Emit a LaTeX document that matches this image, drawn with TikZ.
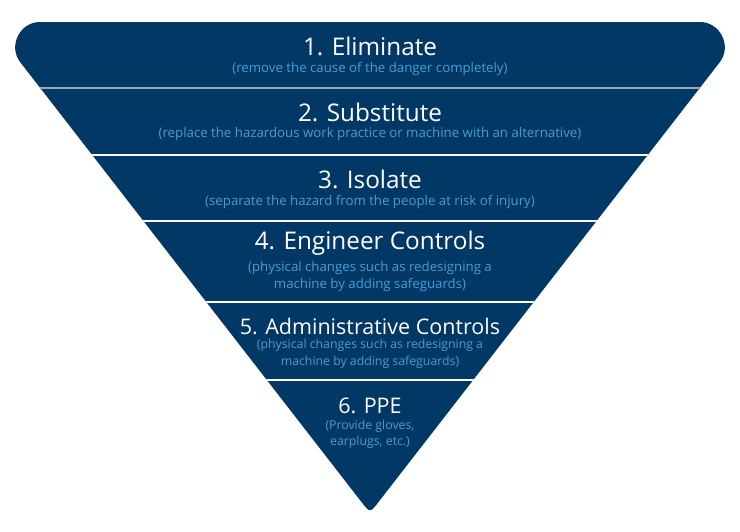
\documentclass[tikz,border=0pt]{standalone}
\usepackage{fontspec}
\setmainfont{Open Sans}
\definecolor{navy}{HTML}{023865}
\definecolor{subblue}{HTML}{4B9AD6}
\definecolor{sepgray}{HTML}{9AA8B8}
\tikzset{
  title/.style={text=white, font=\fontsize{24.3}{27}\selectfont, inner sep=0pt, anchor=center},
  titlesmall/.style={text=white, font=\fontsize{21.5}{24}\selectfont, inner sep=0pt, anchor=center},
  subtitle/.style={text=subblue, font=\fontsize{13.25}{17}\selectfont, inner sep=0pt, anchor=center, align=center},
  subtitlesmall/.style={text=subblue, font=\fontsize{12.3}{16.5}\selectfont, inner sep=0pt, anchor=center, align=center},
  sep/.style={draw=white, line width=1.3pt},
}
\begin{document}
\begin{tikzpicture}[x=1pt,y=-1pt]
\useasboundingbox (0,0) rectangle (740,531);
% left top corner
\coordinate (A) at (40,22);
\coordinate (CA) at (19.6,22);
\coordinate (CB) at (7.8,46.2);
\coordinate (B) at (20.3,62.3);
% right top corner
\coordinate (A2) at (700,22);
\coordinate (CA2) at (720.4,22);
\coordinate (CB2) at (732.2,46.2);
\coordinate (B2) at (719.7,62.3);
% apex
\coordinate (AP) at (370,513);
\coordinate (P1) at (378.6,501.9);
\coordinate (P2) at (361.4,501.9);
\def\shapepath{(A) -- (A2) .. controls (CA2) and (CB2) .. (B2) -- (P1) .. controls (AP) .. (P2) -- (B) .. controls (CB) and (CA) .. (A) -- cycle}
\fill[navy] \shapepath;
\begin{scope}
  \clip \shapepath;
  \draw[sepgray, line width=1.6pt] (0,88) -- (740,88);
  \draw[sep] (0,155) -- (740,155);
  \draw[sep] (0,221) -- (740,221);
  \draw[sep] (0,302) -- (740,302);
  \draw[sep] (0,380) -- (740,380);
\end{scope}
\node[title] (t1) at (370,46) {1. Eliminate};
\node[subtitle] (s1) at (370,69) {(remove the cause of the danger completely)};
\node[title] (t2) at (370,112) {2. Substitute};
\node[subtitle] (s2) at (370,134) {(replace the hazardous work practice or machine with an alternative)};
\node[title] (t3) at (370,179) {3. Isolate};
\node[subtitle] (s3) at (370,202) {(separate the hazard from the people at risk of injury)};
\node[title] (t4) at (370,243) {4. Engineer Controls};
\node[subtitle] (s4) at (370,276.5) {(physical changes such as redesigning a\\machine by adding safeguards)};
\node[titlesmall] (t5) at (370,326) {5. Administrative Controls};
\node[subtitlesmall] (s5) at (370,354) {(physical changes such as redesigning a\\machine by adding safeguards)};
\node[titlesmall] (t6) at (370,406) {6. PPE};
\node[subtitlesmall] (s6) at (370,434.5) {(Provide gloves,\\earplugs, etc.)};
\end{tikzpicture}
\end{document}
